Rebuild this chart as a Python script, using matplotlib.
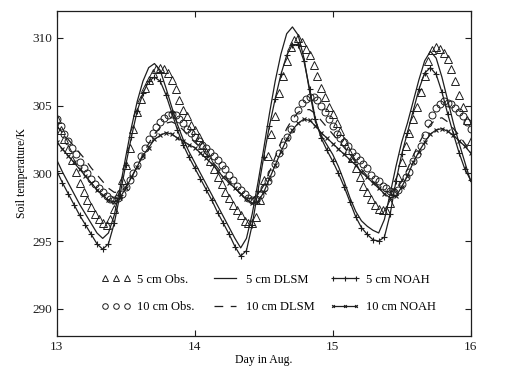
import numpy as np
import matplotlib
matplotlib.use('Agg')
import matplotlib.pyplot as plt

plt.rcParams['font.family'] = ['Liberation Serif', 'DejaVu Serif']

# observation times: every 40 min, 13 Aug 00:00 -> 16 Aug 00:00
obs_day = 13 + np.arange(109) / 36.0
# model times: hourly
mod_day = 13 + np.arange(73) / 24.0

obs5 = [304.0, 303.2, 302.5, 301.8, 301.0, 300.1, 299.3, 298.6, 298.0, 297.5, 297.0, 296.6,
        296.3, 296.2, 296.6, 297.4, 298.5, 299.5, 300.6, 301.9, 303.3, 304.5, 305.5, 306.3,
        306.9, 307.4, 307.7, 307.8, 307.7, 307.4, 306.9, 306.2, 305.4, 304.7, 304.2, 303.6,
        303.2, 302.7, 302.1, 301.6, 300.9, 300.3, 299.7, 299.2, 298.6, 298.2, 297.7, 297.3,
        296.9, 296.5, 296.3, 296.3, 296.8, 298.0, 299.5, 301.3, 302.9, 304.2, 305.9, 307.2,
        308.3, 309.3, 309.8, 310.0, 309.7, 309.2, 308.7, 308.0, 307.2, 306.3, 305.6, 304.9,
        304.4, 303.7, 303.1, 302.4, 301.7, 301.1, 300.4, 299.7, 299.1, 298.6, 298.1, 297.7,
        297.4, 297.3, 297.3, 297.8, 298.7, 299.7, 300.8, 302.0, 303.0, 304.0, 304.9, 306.0,
        307.2, 308.3, 309.1, 309.3, 309.2, 308.9, 308.4, 307.7, 306.8, 305.8, 304.9, 303.9,
        302.4]

obs10 = [304.0, 303.5, 302.9, 302.4, 301.9, 301.4, 300.8, 300.4, 300.0, 299.6, 299.2, 298.9,
         298.6, 298.3, 298.1, 298.0, 298.2, 298.5, 299.0, 299.5, 300.0, 300.6, 301.3, 301.9,
         302.5, 303.0, 303.4, 303.8, 304.1, 304.3, 304.4, 304.3, 304.0, 303.7, 303.3, 303.0,
         302.7, 302.4, 302.1, 301.9, 301.6, 301.3, 301.0, 300.6, 300.3, 299.9, 299.5, 299.1,
         298.8, 298.5, 298.2, 298.0, 298.1, 298.4, 298.9, 299.4, 300.0, 300.7, 301.5, 302.1,
         302.7, 303.3, 304.1, 304.7, 305.2, 305.5, 305.6, 305.6, 305.4, 305.0, 304.5, 304.0,
         303.5, 302.9, 302.6, 302.3, 302.0, 301.6, 301.3, 301.0, 300.7, 300.4, 299.9, 299.6,
         299.4, 299.1, 298.9, 298.7, 298.6, 298.8, 299.2, 299.7, 300.1, 300.9, 301.4, 302.0,
         302.8, 303.7, 304.3, 304.8, 305.1, 305.3, 305.2, 305.1, 304.8, 304.5, 304.2, 303.8,
         303.3]

dlsm5 = [301.0, 300.1, 299.3, 298.5, 297.7, 297.0, 296.3, 295.6, 295.2, 295.6, 296.9, 298.9,
         301.2, 303.4, 305.3, 306.8, 307.8, 308.1, 307.6, 306.3, 304.9, 303.6, 302.5, 301.6,
         300.8, 300.0, 299.2, 298.4, 297.6, 296.8, 296.0, 295.2, 294.5, 295.2, 297.0, 299.3,
         301.8, 304.4, 306.8, 308.8, 310.3, 310.8, 310.2, 308.5, 306.0, 303.8, 302.8, 302.1,
         301.4, 300.5, 299.4, 298.2, 297.2, 296.5, 296.1, 295.8, 295.6, 296.6, 298.5, 300.5,
         302.3, 303.7, 305.3, 306.9, 308.3, 309.0, 308.5, 307.1, 305.4, 303.7, 302.2, 300.8,
         299.4]

dlsm10 = [303.5, 303.0, 302.5, 302.0, 301.5, 301.0, 300.4, 299.9, 299.4, 298.9, 298.6, 298.6,
          299.0, 299.7, 300.5, 301.4, 302.2, 302.9, 303.4, 303.7, 303.8, 303.6, 303.2, 302.7,
          302.3, 301.9, 301.4, 300.9, 300.4, 299.9, 299.4, 298.9, 298.5, 298.2, 298.1, 298.4,
          299.1, 300.1, 301.2, 302.3, 303.3, 304.0, 304.5, 304.7, 304.7, 304.4, 303.9, 303.4,
          302.9, 302.4, 301.9, 301.4, 300.8, 300.3, 299.8, 299.4, 299.0, 298.7, 298.6, 298.8,
          299.4, 300.3, 301.3, 302.2, 303.0, 303.6, 304.0, 304.1, 303.8, 303.3, 302.8, 302.2,
          301.6]

noah5 = [300.2, 299.3, 298.5, 297.7, 296.9, 296.2, 295.5, 294.8, 294.4, 294.8, 296.3, 298.4,
         300.6, 302.7, 304.6, 305.9, 306.8, 307.1, 306.8, 305.8, 304.5, 303.2, 302.1, 301.2,
         300.4, 299.6, 298.8, 298.0, 297.1, 296.3, 295.5, 294.6, 293.9, 294.3, 296.2, 298.7,
         301.2, 303.5, 305.5, 307.3, 308.7, 309.5, 309.5, 308.3, 306.2, 304.0, 302.6, 301.7,
         300.9, 300.0, 299.0, 297.9, 296.8, 296.0, 295.5, 295.1, 295.0, 295.3, 297.0, 299.4,
         301.4, 303.0, 304.6, 306.2, 307.4, 307.8, 307.3, 306.0, 304.4, 302.9, 301.5, 300.3,
         299.5]

noah10 = [302.3, 301.8, 301.3, 300.8, 300.3, 299.8, 299.3, 298.8, 298.4, 298.0, 297.9, 298.2,
          298.9, 299.7, 300.5, 301.3, 301.9, 302.5, 302.8, 303.0, 302.9, 302.6, 302.4, 302.1,
          301.9, 301.5, 301.1, 300.7, 300.2, 299.7, 299.3, 298.9, 298.5, 298.1, 297.8, 297.9,
          298.6, 299.6, 300.6, 301.6, 302.5, 303.2, 303.7, 304.0, 303.9, 303.5, 303.0, 302.6,
          302.2, 301.8, 301.4, 301.0, 300.6, 300.1, 299.7, 299.3, 298.9, 298.5, 298.2, 298.3,
          299.0, 299.8, 300.8, 301.6, 302.3, 302.9, 303.2, 303.3, 303.1, 302.8, 302.4, 302.0,
          301.5]

ink = '#1e1e1e'

fig = plt.figure(figsize=(5.05, 3.72), dpi=100)
ax = fig.add_axes([0.1123, 0.0968, 0.8197, 0.8745])

h1, = ax.plot(obs_day, obs5, ls='none', marker='^', ms=5.5, mfc='none', mec=ink, mew=0.7,
              label='5 cm Obs.')
h2, = ax.plot(obs_day, obs10, ls='none', marker='o', ms=5, mfc='none', mec=ink, mew=0.7,
              label='10 cm Obs.')
h3, = ax.plot(mod_day, dlsm5, color=ink, lw=0.9, label='5 cm DLSM')
h4, = ax.plot(mod_day, dlsm10, color=ink, lw=0.9, dashes=(7, 6), label='10 cm DLSM')
h5, = ax.plot(mod_day, noah5, color=ink, lw=0.9, marker='+', ms=4.5, mew=0.8, label='5 cm NOAH')
h6, = ax.plot(mod_day, noah10, color=ink, lw=0.9, marker='x', ms=2.5, mew=0.8, label='10 cm NOAH')

ax.set_xlim(13, 16)
ax.set_ylim(288, 312)
ax.set_xticks([13, 14, 15, 16])
ax.set_yticks([290, 295, 300, 305, 310])
ax.tick_params(direction='in', length=4, width=0.8, labelsize=9.5, top=True, right=True,
               colors=ink)
for s in ax.spines.values():
    s.set_linewidth(0.9)
    s.set_color(ink)

ax.set_xlabel('Day in Aug.', fontsize=8.5, labelpad=1)
ax.set_ylabel('Soil temperature/K', fontsize=8.5, labelpad=3)

ax.legend(handles=[h1, h2, h3, h4, h5, h6], ncol=3, frameon=False, fontsize=9,
          loc='lower left', bbox_to_anchor=(0.08, 0.035), numpoints=3, handlelength=2.4,
          columnspacing=1.2, labelspacing=1.25, handletextpad=0.5, markerscale=0.8)

fig.savefig('out.png', dpi=100)
